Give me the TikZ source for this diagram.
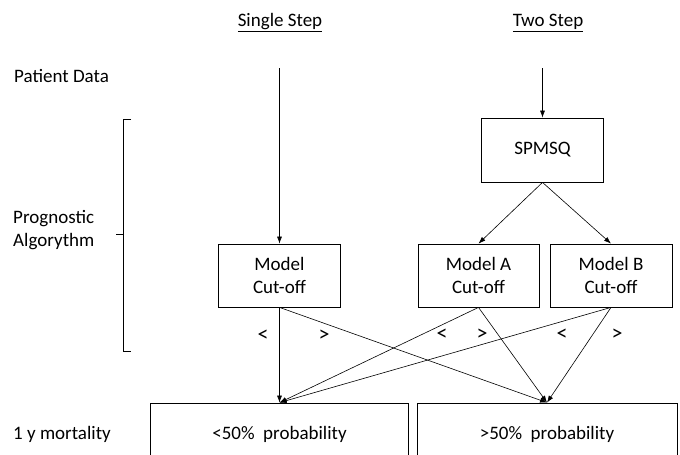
\documentclass[tikz,border=0pt]{standalone}
\usepackage{fontspec}
\setmainfont{Carlito}
\usetikzlibrary{arrows.meta}
\begin{document}
\begin{tikzpicture}[x=1pt,y=-1pt,
  font=\fontsize{19}{23}\selectfont,
  box/.style={draw, line width=0.8pt, align=center, inner sep=0pt},
  arr/.style={-{Latex[length=7pt,width=5pt]}, line width=0.6pt},
  lbl/.style={inner sep=0pt},
  cutmark/.style={inner sep=0pt, font=\fontsize{22}{24}\selectfont}]
\useasboundingbox (0,0) rectangle (680,455);

% column headings
\node[lbl, anchor=base] (single) at (280,27) {\underline{Single Step}};
\node[lbl, anchor=base] (two) at (548,27) {\underline{Two Step}};

% row labels
\node[lbl, anchor=base west] (pd) at (14,82) {Patient Data};
\node[lbl, anchor=west, align=left] (pa) at (13,230) {Prognostic\\Algorythm};
\node[lbl, anchor=base west] (mort) at (13,439) {1 y mortality};

% bracket around the algorithm rows
\draw[line width=0.8pt] (131,119) -- (123,119) -- (123,351) -- (131,351);
\draw[line width=0.8pt] (123,234) -- (116,234);

% boxes
\node[box, minimum width=122pt, minimum height=64pt] (spmsq) at (542.5,150) {SPMSQ};
\node[box, minimum width=122pt, minimum height=63pt] (model) at (279.5,275.5) {Model\\Cut-off};
\node[box, minimum width=121pt, minimum height=63pt] (modela) at (478.5,275.5) {Model A\\Cut-off};
\node[box, minimum width=122pt, minimum height=63pt] (modelb) at (611,275.5) {Model B\\Cut-off};
\node[box, minimum width=258pt, minimum height=62pt] (lo) at (279.5,434) {<50\%\ \ probability};
\node[box, minimum width=260pt, minimum height=62pt] (hi) at (547,434) {>50\%\ \ probability};

% data inputs
\coordinate (in1) at (279.5,68);
\coordinate (in2) at (542.5,68);
\draw[arr] (in1) -- (model.north);
\draw[arr] (in2) -- (spmsq.north);
\draw[arr] (spmsq.south) -- (modela.north);
\draw[arr] (spmsq.south) -- (modelb.north);

% outcomes
\draw[arr] (model.south) -- (lo.north);
\draw[arr] (model.south) -- (hi.north);
\draw[arr] (modela.south) -- (lo.north);
\draw[arr] (modela.south) -- (hi.north);
\draw[arr] (modelb.south) -- (lo.north);
\draw[arr] (modelb.south) -- (hi.north);

% cut-off direction marks
\node[cutmark] (l1) at (263,336) {<};
\node[cutmark] (g1) at (324,336) {>};
\node[cutmark] (l2) at (442,335) {<};
\node[cutmark] (g2) at (482,335) {>};
\node[cutmark] (l3) at (562,335) {<};
\node[cutmark] (g3) at (617,335) {>};
\end{tikzpicture}
\end{document}
